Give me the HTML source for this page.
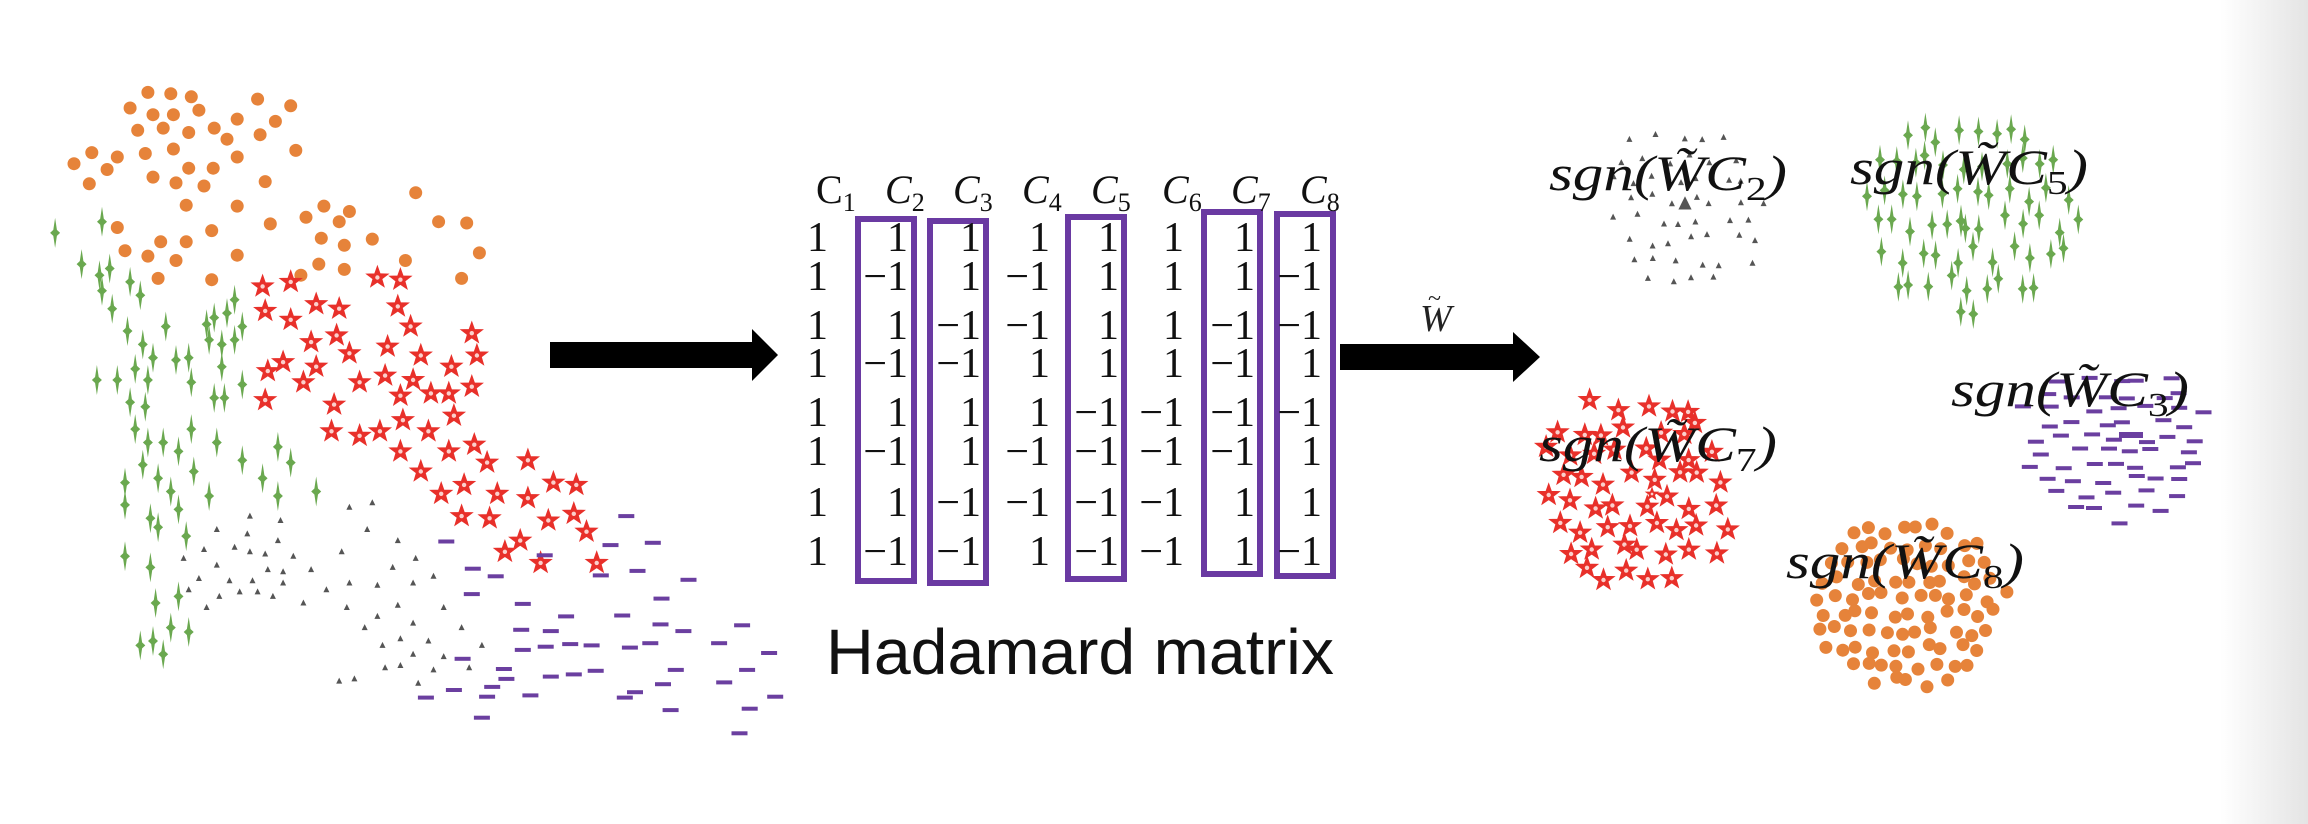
<!DOCTYPE html>
<html><head><meta charset="utf-8"><style>
html,body{margin:0;padding:0;background:#fff;}
svg{display:block;}
</style></head><body>
<svg id="s" width="2308" height="824" viewBox="0 0 2308 824" xmlns="http://www.w3.org/2000/svg">
<defs>
<linearGradient id="edge" x1="0" x2="1" y1="0" y2="0">
<stop offset="0" stop-color="#ffffff"/><stop offset="1" stop-color="#e4e4e4"/>
</linearGradient>
<g id="star"><path d="M0,-10.5 L2.5,-3.4 L10,-3.2 L4.1,1.3 L6.2,8.5 L0,4.3 L-6.2,8.5 L-4.1,1.3 L-10,-3.2 L-2.5,-3.4Z" fill="#e8302a" stroke="#e8302a" stroke-width="1.5"/><circle r="2.2" fill="#fbd0cc"/></g>
<path id="cross" d="M0,-15 L1.8,-3 L5,0 L1.8,3 L0,15 L-1.8,3 L-5,0 L-1.8,-3Z" fill="#6aa84f"/>
<path id="tri" d="M0,-3.5 L3,2.5 L-3,2.5Z" fill="#555"/>
<rect id="dash" x="-8" y="-2" width="16" height="4" fill="#6b3fa0"/>
<circle id="dot" r="6.5" fill="#e6833a"/>
</defs>
<rect x="2220" y="0" width="88" height="824" fill="url(#edge)"/>
<g id="pts"></g>

<path d="M550,342 L752,342 L752,329 L778,355 L752,381 L752,368 L550,368Z" fill="#000"/>
<path d="M1340,344 L1513,344 L1513,332 L1540,357 L1513,382 L1513,370 L1340,370Z" fill="#000"/>
<text x="1420" y="331" font-family="Liberation Serif, serif" font-style="italic" font-size="38" fill="#222">W</text>
<text x="1428" y="306" font-family="Liberation Serif, serif" font-size="24" fill="#222">~</text>

<g fill="none" stroke="#6a3aa2" stroke-width="6">
<rect x="858" y="219" width="56" height="362"/>
<rect x="930" y="221" width="56" height="362"/>
<rect x="1068" y="217" width="56" height="362"/>
<rect x="1204" y="212" width="56" height="362"/>
<rect x="1277" y="214" width="56" height="362"/>
</g>
<g id="mat" font-family="Liberation Serif, serif" font-size="42" fill="#111" text-anchor="end"></g>
<g font-family="Liberation Serif, serif" font-size="40" fill="#111">
<text x="816" y="203">C<tspan font-size="26" dy="8">1</tspan></text>
<text x="885" y="203" font-style="italic">C<tspan font-size="26" dy="8" font-style="normal">2</tspan></text>
<text x="953" y="203" font-style="italic">C<tspan font-size="26" dy="8" font-style="normal">3</tspan></text>
<text x="1022" y="203" font-style="italic">C<tspan font-size="26" dy="8" font-style="normal">4</tspan></text>
<text x="1091" y="203" font-style="italic">C<tspan font-size="26" dy="8" font-style="normal">5</tspan></text>
<text x="1162" y="203" font-style="italic">C<tspan font-size="26" dy="8" font-style="normal">6</tspan></text>
<text x="1231" y="203" font-style="italic">C<tspan font-size="26" dy="8" font-style="normal">7</tspan></text>
<text x="1300" y="203" font-style="italic">C<tspan font-size="26" dy="8" font-style="normal">8</tspan></text>
</g>
<text x="826" y="674" font-family="Liberation Sans, sans-serif" font-size="64" fill="#111" textLength="508" lengthAdjust="spacingAndGlyphs">Hadamard matrix</text>

<g id="labels" font-family="Liberation Serif, serif" font-style="italic" font-size="50" fill="#111"></g>
</svg>
<script>
(function(){
var NS="http://www.w3.org/2000/svg";
var g=document.getElementById('pts');
function use(id,x,y,fill,sc){var u=document.createElementNS(NS,'use');u.setAttribute('href','#'+id);
 var t='translate('+x.toFixed(1)+','+y.toFixed(1)+')';if(sc)t+=' scale('+sc+')';u.setAttribute('transform',t);if(fill)u.setAttribute('fill',fill);g.appendChild(u);return u;}
function L(id,arr){for(var i=0;i<arr.length;i+=2){use(id,arr[i]*0.51,50+arr[i+1]*0.446);}}
L('dot',[290,95,335,98,375,105,255,130,300,145,340,145,390,135,505,110,570,125,270,180,320,175,370,185,420,175,445,200,465,155,510,190,540,160,145,255,180,230,230,240,210,268,285,232,340,222,370,265,418,265,465,240,580,225,175,300,300,285,345,298,400,305,520,295,365,348,465,350,230,398,530,390,600,375,635,350,665,385,685,362,815,320,860,385,915,388,315,430,365,430,415,405,245,450,290,462,345,472,465,460,630,422,675,438,730,424,310,512,415,515,590,505,625,480,675,492,795,472,940,455,905,512]);
L('cross',[108,410,200,385,160,480,195,505,215,490,255,520,275,550,220,580,200,540,325,620,250,630,280,660,300,690,345,695,370,690,190,740,230,740,265,715,290,740,375,745,405,615,420,600,445,590,460,560,475,620,410,650,435,660,460,650,435,710,420,780,440,780,475,750,255,790,285,800,265,850,290,880,320,880,350,900,375,850,425,880,475,920,545,890,570,925,515,960,545,1000,620,990,245,970,280,930,310,960,335,990,380,945,410,1000,245,1020,295,1050,310,1070,350,1030,365,1090,245,1135,295,1160,350,1225,305,1240,335,1295,370,1305,275,1335,300,1325,320,1355]);
L('star',[515,530,570,520,520,585,570,605,620,570,665,580,740,510,785,515,780,575,805,620,925,635,935,685,610,655,660,640,685,680,760,665,825,685,885,710,525,720,555,700,595,745,620,710,705,745,755,730,810,740,845,770,880,770,925,755,520,785,655,795,785,775,790,830,890,820,650,855,705,865,745,855,840,855,785,900,880,900,930,885,955,925,825,945,1035,920,865,995,910,975,975,995,1035,1005,1085,970,1130,975,905,1045,960,1050,1075,1055,1125,1040,1150,1080,990,1125,1020,1100,1060,1150,1170,1150]);
L('tri',[730,1015,685,1025,490,1045,550,1055,425,1075,485,1085,720,1075,545,1100,780,1100,400,1120,460,1115,490,1125,520,1130,575,1135,670,1125,815,1140,360,1140,425,1155,525,1165,555,1170,610,1165,770,1160,850,1180,390,1185,450,1190,495,1190,555,1195,685,1195,740,1200,810,1195,370,1210,470,1215,505,1215,535,1225,430,1225,640,1210,595,1240,405,1250,680,1250,780,1245,870,1250,740,1270,810,1285,715,1295,905,1295,750,1335,785,1320,840,1325,945,1335,810,1355,870,1360,755,1385,785,1380,850,1390,920,1385,665,1415,695,1410,820,1420]);
L('dash',[1228,1045,875,1102,1197,1110,1280,1105,1068,1133,927,1163,972,1180,1178,1178,1250,1168,1350,1188,925,1220,1297,1230,1025,1242,1110,1270,1220,1268,1295,1288,1022,1300,1080,1303,1340,1303,1455,1290,1025,1345,1070,1338,1118,1332,1160,1335,1235,1340,1275,1330,1410,1330,1508,1352,907,1365,988,1388,993,1410,1080,1405,1125,1400,1168,1392,1325,1390,1465,1390,890,1435,965,1428,955,1450,835,1452,1040,1447,1245,1440,1225,1452,1300,1422,1420,1418,1520,1450,945,1497,1315,1480,1470,1477,1450,1532]);
var seed=11;function r(){seed=(seed*16807)%2147483647;return seed/2147483647;}
function cl(id,cx,cy,rx,ry,sx,sy){for(var y=-ry;y<=ry;y+=sy){var off=(Math.round((y+ry)/sy)%2)*sx/2;for(var x=-rx+off;x<=rx;x+=sx){var a=x/rx,b=y/ry;if(a*a+b*b>1)continue;use(id,cx+x+(r()-0.5)*sx*0.6,cy+y+(r()-0.5)*sy*0.6);}}}
cl('tri',1685,206,82,86,22,20);
cl('cross',1968,210,110,106,18,30);
cl('star',1636,490,102,108,24,24);
cl('dash',2115,446,98,78,28,14);
cl('dot',1907,600,100,88,17,17);
use('tri',1685,204,'#000',2.2);
use('cross',1961,221,'#000',1.1);
var s=use('star',1652,494,null,0.6);
var d=use('dash',2131,435,'#000',1.5);
use('dot',1920,596,'#000',0.35);
var m=document.getElementById('mat');
var H=[[1,1,1,1,1,1,1,1],[1,-1,1,-1,1,1,1,-1],[1,1,-1,-1,1,1,-1,-1],[1,-1,-1,1,1,1,-1,1],[1,1,1,1,-1,-1,-1,-1],[1,-1,1,-1,-1,-1,-1,1],[1,1,-1,-1,-1,-1,1,1],[1,-1,-1,1,-1,-1,1,-1]];
var xs=[828,908,981,1050,1119,1184,1255,1322];var ys=[236,275,324,362,411,450,501,550];
for(var i=0;i<8;i++)for(var j=0;j<8;j++){var t=document.createElementNS(NS,'text');t.setAttribute('x',xs[j]);t.setAttribute('y',ys[i]+15);t.textContent=H[i][j]<0?'\u22121':'1';m.appendChild(t);}
var lb=document.getElementById('labels');
[[1549,190,'2'],[1850,184,'5'],[1539,461,'7'],[1951,406,'3'],[1786,578,'8']].forEach(function(p){
 var t=document.createElementNS(NS,'text');t.setAttribute('x',p[0]);t.setAttribute('y',p[1]);
 t.setAttribute('textLength','238');t.setAttribute('lengthAdjust','spacingAndGlyphs');
 t.innerHTML='sgn(W\u0303C<tspan font-style="normal" font-size="34" dy="10">'+p[2]+'</tspan><tspan dy="-10">)</tspan>';
 lb.appendChild(t);});
})();
</script>
</body></html>
